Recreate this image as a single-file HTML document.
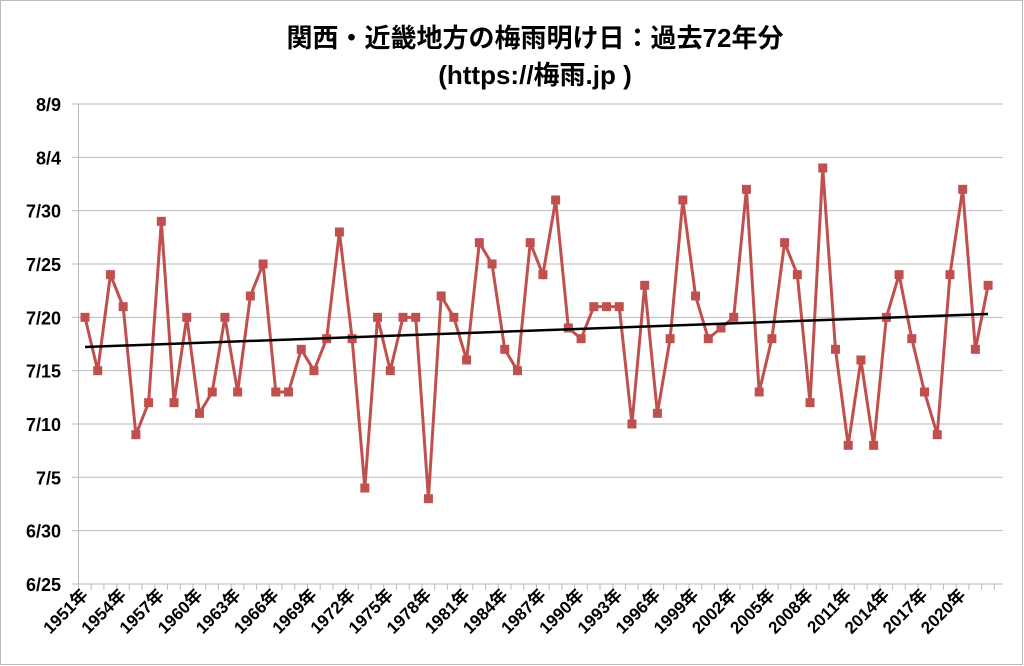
<!DOCTYPE html><html><head><meta charset="utf-8"><style>body{margin:0;background:#fff}svg{display:block}</style></head><body>
<svg width="1024" height="666" xmlns="http://www.w3.org/2000/svg" font-family="Liberation Sans, Noto Sans CJK JP, sans-serif">
<rect x="0.5" y="0.5" width="1022" height="664" fill="#fff" stroke="#bbb"/>
<text x="535" y="47" text-anchor="middle" font-size="26" font-weight="bold">関西・近畿地方の梅雨明け日：過去72年分</text>
<text x="535" y="84" text-anchor="middle" font-size="26" font-weight="bold">(https://梅雨.jp )</text>
<g id="g"></g>
</svg>
<script>
const g=document.getElementById('g');let s='';
const yl=['8/9','8/4','7/30','7/25','7/20','7/15','7/10','7/5','6/30','6/25'];
for(let i=0;i<10;i++){const y=104+i*53.33;s+=`<line x1="72" x2="1003" y1="${y}" y2="${y}" stroke="#bbb"/>`;s+=`<text x="61" y="${y+7}" text-anchor="end" font-size="18" font-weight="bold">${yl[i]}</text>`;}
s+=`<line x1="78.5" x2="78.5" y1="104" y2="584" stroke="#bbb"/>`;
const sp=12.72;
for(let i=0;i<=72;i++){const x=78.5+i*sp;s+=`<line x1="${x}" x2="${x}" y1="584" y2="590" stroke="#bbb"/>`;}
const d=[20,15,24,21,9,12,29,12,20,11,13,20,13,22,25,13,13,17,15,18,28,18,4,20,15,20,20,3,22,20,16,27,25,17,15,27,24,31,19,18,21,21,21,10,23,11,18,31,22,18,19,20,32,13,18,27,24,12,34,17,8,16,8,20,24,18,13,9,24,32,17,23];
const X=i=>85+i*sp,Y=v=>584-(v+5)*10.667;
let p=d.map((v,i)=>X(i)+','+Y(v)).join(' ');
s+=`<polyline points="${p}" fill="none" stroke="#c0504d" stroke-width="3"/>`;
d.forEach((v,i)=>{s+=`<rect x="${X(i)-4.5}" y="${Y(v)-4.5}" width="9" height="9" fill="#c0504d"/>`;});
s+=`<line x1="85" y1="347" x2="988" y2="314" stroke="#000" stroke-width="2.5"/>`;
for(let i=0;i<72;i+=3){const x=X(i)+4;s+=`<text transform="translate(${x},596) rotate(-45)" text-anchor="end" font-size="17" font-weight="bold">${1951+i}年</text>`;}
g.innerHTML=s;
</script>
</body></html>
